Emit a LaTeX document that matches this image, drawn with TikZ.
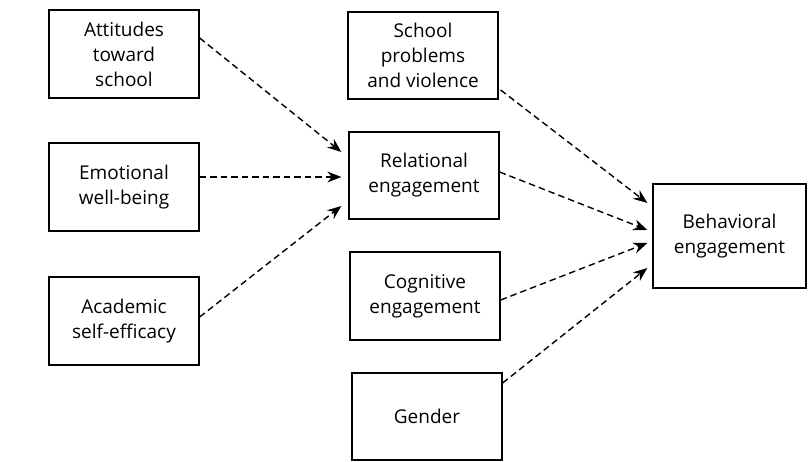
\documentclass[tikz,border=0pt]{standalone}
\usepackage{fontspec}
\setmainfont{Open Sans}
\usetikzlibrary{arrows.meta}
\begin{document}
\begin{tikzpicture}[x=1pt,y=-1pt,
  box/.style={draw, line width=1.3pt, minimum width=150pt, minimum height=88pt,
    align=center, inner sep=0pt, font=\fontsize{19}{25}\selectfont},
  link/.style={line width=1.4pt, dash pattern=on 6.5pt off 4pt,
    -{Stealth[length=14pt,width=11pt]}}]
\useasboundingbox[fill=white] (0,0) rectangle (809,462);

% predictors on the left
\node[box] (att) at (124,54)  {Attitudes\\toward\\school};
\node[box] (emo) at (124,187) {Emotional\\well-being};
\node[box] (aca) at (124,321) {Academic\\self-efficacy};

% middle column
\node[box, minimum height=87pt] (sch) at (423,55.5) {School\\problems\\and violence};
\node[box, minimum height=87pt] (rel) at (424,175.5) {Relational\\engagement};
\node[box] (cog) at (425,296) {Cognitive\\engagement};
\node[box, minimum height=87pt] (gen) at (427,416.5) {Gender};

% outcome
\node[box, minimum width=153pt, minimum height=104pt] (beh) at (729.5,236) {Behavioral\\engagement};

% paths into relational engagement
\draw[link] ([yshift=16pt]att.east) -- ([xshift=-7pt,yshift=23.5pt]rel.west);
\draw[link] ([yshift=10pt]emo.east) -- ([xshift=-7pt,yshift=-1.5pt]rel.west);
\draw[link] ([yshift=4pt]aca.east) -- ([xshift=-7pt,yshift=-30.5pt]rel.west);

% paths into behavioral engagement
\draw[link] ([xshift=2pt,yshift=-34.5pt]sch.east) -- ([xshift=-5pt,yshift=33pt]beh.west);
\draw[link] ([yshift=3.5pt]rel.east) -- ([xshift=-5pt,yshift=6pt]beh.west);
\draw[link] ([yshift=-4pt]cog.east) -- ([xshift=-5pt,yshift=-7pt]beh.west);
\draw[link] ([yshift=33.5pt]gen.east) -- ([xshift=-5pt,yshift=-32pt]beh.west);
\end{tikzpicture}
\end{document}
